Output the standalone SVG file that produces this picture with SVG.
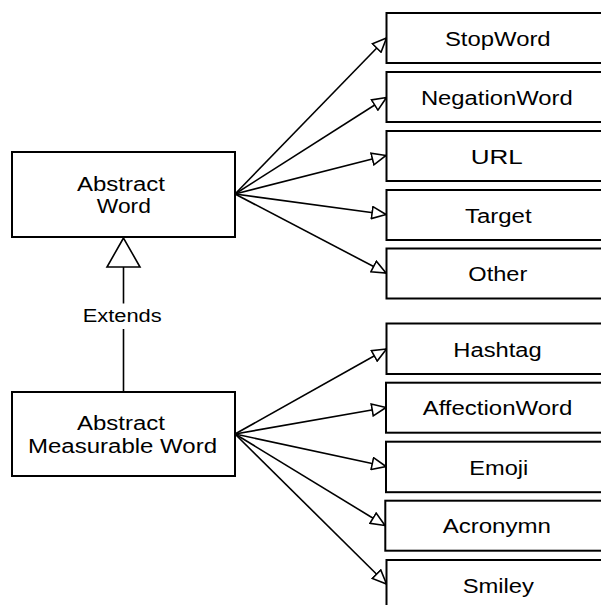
<svg xmlns="http://www.w3.org/2000/svg" width="601" height="605" viewBox="0 0 601 605">
<style>
.box{fill:#fff;stroke:#000;stroke-width:2}
.t{font-family:"Liberation Sans",Arial,sans-serif;font-size:20px;fill:#000;text-anchor:middle}
.e{fill:none;stroke:#000;stroke-width:1.6}
</style>
<defs>
<marker id="open" viewBox="0 0 16 14" refX="15" refY="7" markerWidth="16" markerHeight="14" markerUnits="userSpaceOnUse" orient="auto">
<path d="M15,7 L1,1 L1,13 Z" fill="#fff" stroke="#000" stroke-width="1.6"/>
</marker>
</defs>
<rect width="601" height="605" fill="#fff"/>
<g id="connectors">
<path class="e" marker-end="url(#open)" d="M235,194 L386.5,38"/>
<path class="e" marker-end="url(#open)" d="M235,194 L386.5,97.5"/>
<path class="e" marker-end="url(#open)" d="M235,194 L386,155.5"/>
<path class="e" marker-end="url(#open)" d="M235,194 L386,214.5"/>
<path class="e" marker-end="url(#open)" d="M235,194 L386,273"/>
<path class="e" marker-end="url(#open)" d="M235,434 L386.5,349"/>
<path class="e" marker-end="url(#open)" d="M235,434 L386,407.5"/>
<path class="e" marker-end="url(#open)" d="M235,434 L386,466.5"/>
<path class="e" marker-end="url(#open)" d="M235,434 L385,525.5"/>
<path class="e" marker-end="url(#open)" d="M235,434 L386.5,584"/>
<g id="extends">
<path class="e" d="M123.5,392 V329 M123.5,303.5 V267"/>
<polygon points="123.5,238 107,267 140,267" fill="#fff" stroke="#000" stroke-width="1.6"/>
<text class="t" x="122.2" y="321.7" font-size="18" style="font-size:18px" textLength="79" lengthAdjust="spacingAndGlyphs">Extends</text>
</g>
</g>
<g id="abstract-word">
<rect class="box" x="12" y="152" width="223" height="85"/>
<text class="t" x="121" y="191" textLength="88" lengthAdjust="spacingAndGlyphs">Abstract</text>
<text class="t" x="123.8" y="213.3" textLength="54" lengthAdjust="spacingAndGlyphs">Word</text>
</g>
<g id="abstract-measurable-word">
<rect class="box" x="12" y="392" width="223" height="84"/>
<text class="t" x="121" y="430" textLength="88" lengthAdjust="spacingAndGlyphs">Abstract</text>
<text class="t" x="122.5" y="453.3" textLength="189" lengthAdjust="spacingAndGlyphs">Measurable Word</text>
</g>
<g id="stopword">
<rect class="box" x="386.5" y="13" width="230" height="50"/>
<text class="t" x="497.8" y="45.7" textLength="105.7" lengthAdjust="spacingAndGlyphs">StopWord</text>
</g>
<g id="negationword">
<rect class="box" x="386.5" y="72" width="230" height="50"/>
<text class="t" x="496.8" y="104.8" textLength="151.7" lengthAdjust="spacingAndGlyphs">NegationWord</text>
</g>
<g id="url">
<rect class="box" x="386.5" y="131" width="230" height="50"/>
<text class="t" x="496.7" y="163.6" textLength="52" lengthAdjust="spacingAndGlyphs">URL</text>
</g>
<g id="target">
<rect class="box" x="386.5" y="190" width="230" height="50"/>
<text class="t" x="498.3" y="222.7" textLength="66.7" lengthAdjust="spacingAndGlyphs">Target</text>
</g>
<g id="other">
<rect class="box" x="386.5" y="248.5" width="230" height="50"/>
<text class="t" x="497.8" y="281.2" textLength="59" lengthAdjust="spacingAndGlyphs">Other</text>
</g>
<g id="hashtag">
<rect class="box" x="386.5" y="323.5" width="230" height="50.5"/>
<text class="t" x="497.5" y="356.5" textLength="88.3" lengthAdjust="spacingAndGlyphs">Hashtag</text>
</g>
<g id="affectionword">
<rect class="box" x="386" y="382.7" width="230" height="50"/>
<text class="t" x="497.5" y="415.4" textLength="149.7" lengthAdjust="spacingAndGlyphs">AffectionWord</text>
</g>
<g id="emoji">
<rect class="box" x="386" y="441.7" width="230" height="50.5"/>
<text class="t" x="498.8" y="474.6" textLength="59" lengthAdjust="spacingAndGlyphs">Emoji</text>
</g>
<g id="acronymn">
<rect class="box" x="385.3" y="500.7" width="230" height="50"/>
<text class="t" x="496.8" y="533.4" textLength="108.3" lengthAdjust="spacingAndGlyphs">Acronymn</text>
</g>
<g id="smiley">
<rect class="box" x="386.5" y="560" width="230" height="60"/>
<text class="t" x="498.3" y="592.7" textLength="71.3" lengthAdjust="spacingAndGlyphs">Smiley</text>
</g>
</svg>
